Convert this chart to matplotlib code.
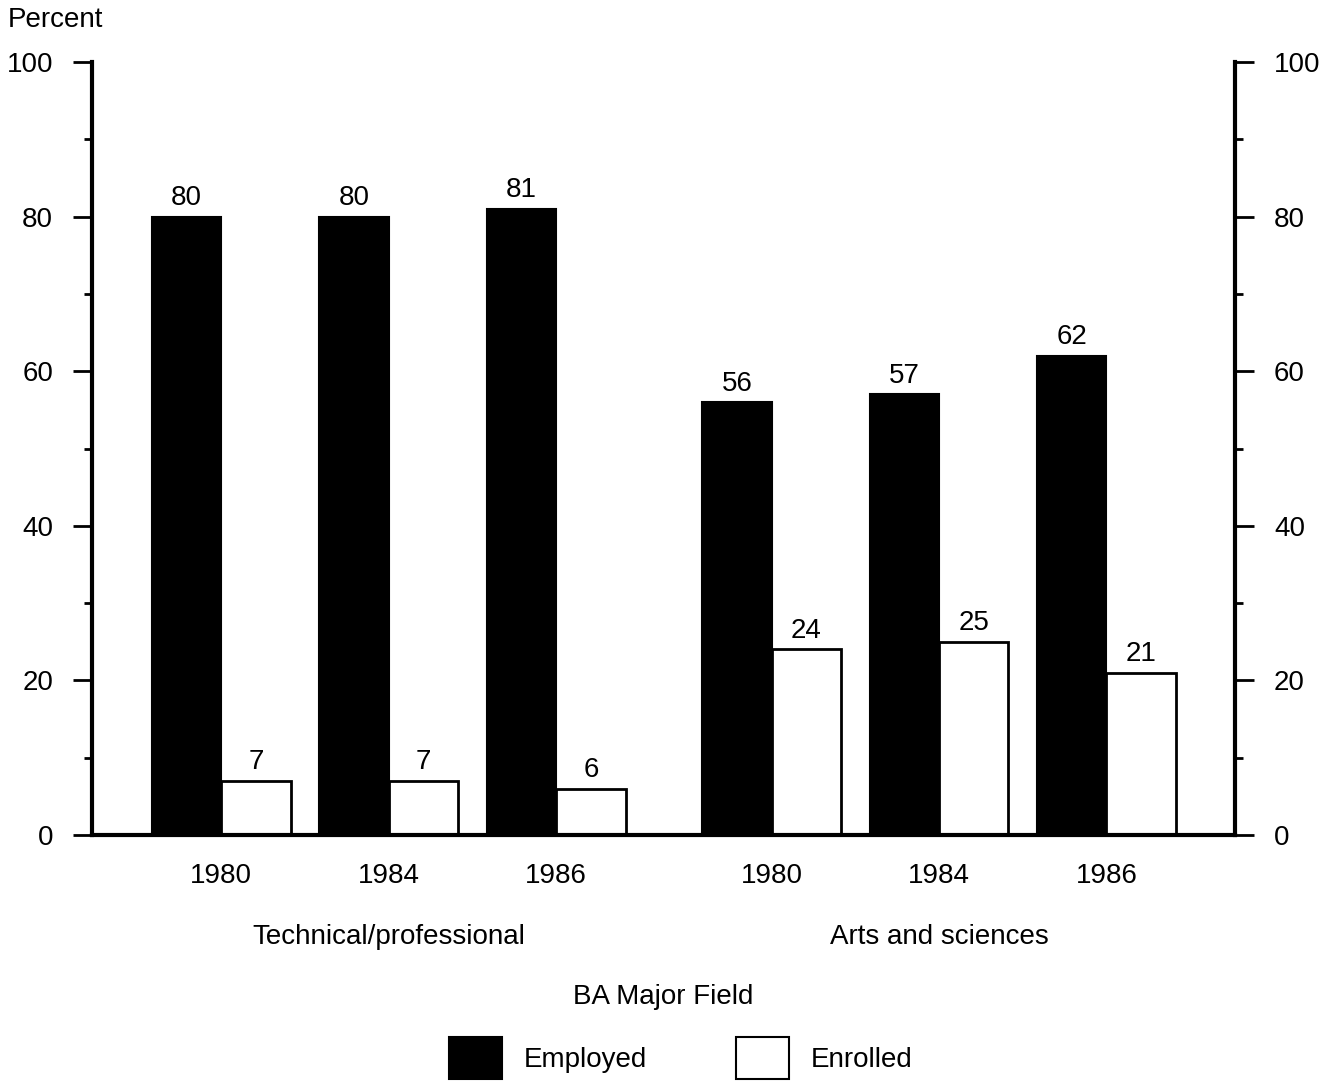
import numpy as np
import matplotlib.pyplot as plt
from matplotlib.patches import Patch

plt.rcParams['font.family'] = ['Liberation Sans', 'DejaVu Sans']

# share of BA recipients employed / enrolled, by major field and year
years = ['1980', '1984', '1986']
fields = ['Technical/professional', 'Arts and sciences']
employed = [[80, 80, 81], [56, 57, 62]]
enrolled = [[7, 7, 6], [24, 25, 21]]

fs = 20
w = 1.0
step = 2.41
group_start = [1.86, 9.78]

fig = plt.figure(figsize=(13.33, 10.83), dpi=100)
ax = fig.add_axes([92 / 1333, 1 - 835 / 1083, (1235 - 92) / 1333, (835 - 62) / 1083])

centers = []
for g in range(len(fields)):
    x = group_start[g] + np.arange(len(years)) * step
    centers.extend(x)
    b1 = ax.bar(x - w / 2, employed[g], width=w, color='black', edgecolor='black', lw=1.5)
    b2 = ax.bar(x + w / 2, enrolled[g], width=w, color='white', edgecolor='black', lw=2)
    ax.bar_label(b1, padding=4, fontsize=fs)
    ax.bar_label(b2, padding=4, fontsize=fs)
    ax.text(x.mean(), -0.132, fields[g], transform=ax.get_xaxis_transform(),
            ha='center', va='center', fontsize=fs)

ax.set_xlim(0, 16.45)
ax.set_ylim(0, 100)
ax.set_xticks(centers)
ax.set_xticklabels(years * 2, fontsize=fs)
ax.tick_params(axis='x', length=0, pad=20)

ax.set_yticks(np.arange(0, 101, 20))
ax.set_yticks(np.arange(10, 100, 20), minor=True)
ax.tick_params(axis='y', which='both', left=True, right=True, labelleft=True,
               labelright=True, direction='out', width=2, labelsize=fs, pad=14)
ax.tick_params(axis='y', which='major', length=14)
ax.tick_params(axis='y', which='minor', length=6)

ax.spines['top'].set_visible(False)
for s in ['left', 'right', 'bottom']:
    ax.spines[s].set_linewidth(3)

fig.text(8 / 1333, 1 - 20 / 1083, 'Percent', ha='left', va='center', fontsize=fs)
fig.text(663 / 1333, 1 - 997 / 1083, 'BA Major Field', ha='center', va='center', fontsize=fs)

handles = [Patch(facecolor='black', edgecolor='black', lw=1.5),
           Patch(facecolor='white', edgecolor='black', lw=1.5)]
fig.legend(handles, ['Employed', 'Enrolled'], loc='center', ncol=2,
           bbox_to_anchor=(681 / 1333, 1 - 1058 / 1083), frameon=False,
           fontsize=fs, handlelength=1.9, handleheight=1.9, columnspacing=3.2,
           handletextpad=0.8)

fig.savefig('out.png', dpi=100)
